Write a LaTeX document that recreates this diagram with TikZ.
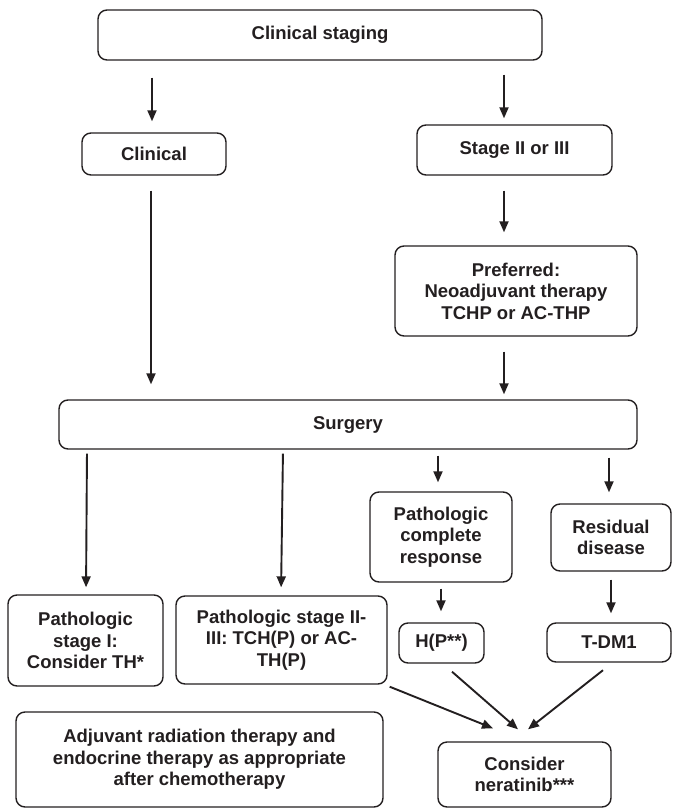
\documentclass[tikz,border=0pt]{standalone}
\usepackage{fontspec}
\setmainfont{Liberation Sans}
\usetikzlibrary{arrows.meta,calc}
\definecolor{ink}{HTML}{231F20}
\begin{document}
\begin{tikzpicture}[x=1pt,y=-1pt,
  box/.style={draw=ink, line width=1.4pt, rounded corners=9pt, inner sep=0pt,
    align=center, text=ink, font=\fontsize{18.5}{21.5}\selectfont\bfseries},
  arr/.style={draw=ink, line width=1.9pt, -{Triangle[length=11pt,width=9pt]}}]
\useasboundingbox (0,0) rectangle (673,809);
\node[box, minimum width=444pt, minimum height=50pt] (stag) at (320,35) {Clinical staging};
\node[box, minimum width=144pt, minimum height=42pt] (clin) at (154,154) {Clinical};
\node[box, minimum width=195pt, minimum height=50pt] (st23) at (514.5,150) {Stage II or III};
\node[box, minimum width=242pt, minimum height=90pt] (pref) at (516,291) {Preferred:\\Neoadjuvant therapy\\TCHP or AC-THP};
\node[box, minimum width=578pt, minimum height=49pt] (surg) at (348,424.5) {Surgery};
\node[box, minimum width=142pt, minimum height=90pt] (pcr) at (441,537) {Pathologic\\complete\\response};
\node[box, minimum width=120pt, minimum height=67pt] (resid) at (611,537.5) {Residual\\disease};
\node[box, minimum width=85pt, minimum height=40pt] (hp) at (441.5,643) {H(P**)};
\node[box, minimum width=124pt, minimum height=39pt] (tdm) at (609,642.5) {T-DM1};
\node[box, minimum width=155pt, minimum height=91pt] (ps1) at (85.5,640.5) {Pathologic\\stage I:\\Consider TH*};
\node[box, minimum width=211pt, minimum height=88pt] (ps23) at (281.5,640) {Pathologic stage II-\\III: TCH(P) or AC-\\TH(P)};
\node[box, minimum width=367pt, minimum height=95pt] (adj) at (199.5,759.5) {Adjuvant radiation therapy and\\endocrine therapy as appropriate\\after chemotherapy};
\node[box, minimum width=173pt, minimum height=65pt] (ner) at (524.5,774.5) {Consider\\neratinib***};
% vertical connectors
\draw[arr, shorten <=17pt, shorten >=11pt] (stag.south -| 152,0) -- (clin.north -| 152,0);
\draw[arr, shorten <=14pt, shorten >=6pt] (stag.south -| 504,0) -- (st23.north -| 504,0);
\draw[arr, shorten <=15pt, shorten >=15pt] (clin.south -| 151,0) -- (surg.north -| 151,0);
\draw[arr, shorten <=15pt, shorten >=13pt] (st23.south -| 504,0) -- (pref.north -| 504,0);
\draw[arr, shorten <=15pt, shorten >=5pt] (pref.south -| 504,0) -- (surg.north -| 504,0);
\draw[arr, shorten <=4pt, shorten >=7pt] (surg.south -| 87,0) -- (ps1.north -| 86,0);
\draw[arr, shorten <=4pt, shorten >=8pt] (surg.south -| 283,0) -- (ps23.north -| 281,0);
\draw[arr, shorten <=6pt, shorten >=9pt] (surg.south -| 438,0) -- (pcr.north -| 438,0);
\draw[arr, shorten <=8pt, shorten >=11pt] (surg.south -| 609,0) -- (resid.north -| 609,0);
\draw[arr, shorten <=6pt, shorten >=11pt] (pcr.south -| 441,0) -- (hp.north -| 441,0);
\draw[arr, shorten <=8pt, shorten >=9pt] (resid.south -| 611,0) -- (tdm.north -| 611,0);
% diagonal connectors to neratinib
\coordinate (s1) at ($(ps23.south east)+(2,2)$);
\coordinate (t1) at ($(ner.north)+(-31.5,-13)$);
\coordinate (s2) at ($(hp.south)+(10.5,8)$);
\coordinate (t2) at ($(ner.north)+(-6.5,-12)$);
\coordinate (s3) at ($(tdm.south)+(-6,7.5)$);
\coordinate (t3) at ($(ner.north)+(3.5,-12)$);
\draw[arr] (s1) -- (t1);
\draw[arr] (s2) -- (t2);
\draw[arr] (s3) -- (t3);
\end{tikzpicture}
\end{document}
